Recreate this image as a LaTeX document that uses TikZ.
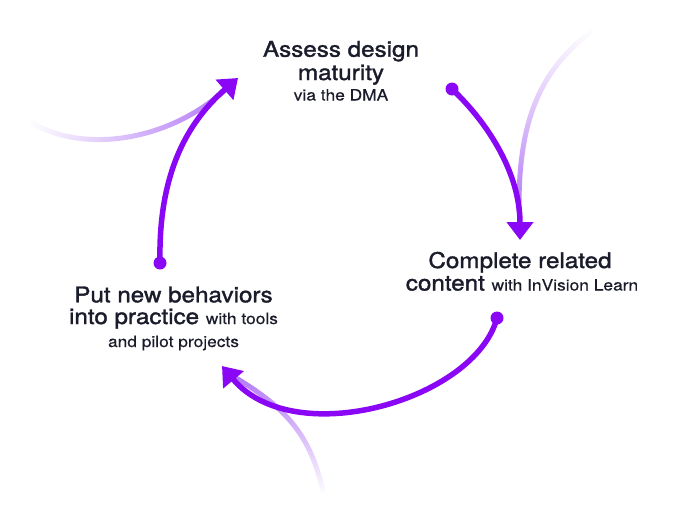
\documentclass[tikz,border=0pt]{standalone}
\usepackage{fontspec}
\setmainfont{TeX Gyre Heros}[FakeBold=0.25, FakeStretch=1.12]
\newfontfamily\titlefont{TeX Gyre Heros}[FakeBold=1.5, FakeStretch=1.12]
\usetikzlibrary{arrows.meta,fadings}
\definecolor{violetmain}{HTML}{8A07F5}
\definecolor{violettrail}{HTML}{B47AF7}
\definecolor{inkcol}{HTML}{1A1C2B}
\tikzfading[name=trailfadeL, left color=transparent!100, middle color=transparent!20, right color=transparent!0]
\tikzfading[name=trailfadeT, top color=transparent!100, middle color=transparent!20, bottom color=transparent!0]
\tikzfading[name=trailfadeB, top color=transparent!0, middle color=transparent!20, bottom color=transparent!100]
\tikzset{
  cyclearrow/.style={draw=violetmain, line width=5.5pt,
    -{Triangle[length=18pt,width=26pt]}},
  trail/.style={draw=violettrail, line width=5pt},
  dotnode/.style={circle, fill=violetmain, inner sep=0pt, minimum size=13pt},
  titletext/.style={anchor=base, text=inkcol, font=\titlefont\fontsize{21.6}{25}\selectfont,
    inner sep=0pt, text depth=0pt, text height=15.5pt},
  smalltext/.style={anchor=base, text=inkcol, font=\fontsize{15.5}{18}\selectfont,
    inner sep=0pt, text depth=0pt, text height=11.5pt},
}
\newcommand{\smallfont}{\fontsize{15.5}{18}\selectfont\normalfont}
\begin{document}
\begin{tikzpicture}[x=1pt,y=-1pt]
\path[fill=white,use as bounding box] (0,0) rectangle (692,514);

% faded trails
\draw[trail, path fading=trailfadeL] (30,122) .. controls (85,155) and (170,140) .. (225,90);
\draw[trail, path fading=trailfadeT] (593,30) .. controls (540,70) and (518,120) .. (519,212);
\draw[trail, path fading=trailfadeB] (323,492) .. controls (310,430) and (280,405) .. (236,378);

% start dots and tips
\node[dotnode] (s1) at (160,263) {};
\node[dotnode] (s2) at (452,89) {};
\node[dotnode] (s3) at (497,318) {};
\coordinate (t1) at (238,78);
\coordinate (t2) at (520,240);
\coordinate (t3) at (222,366);

% cycle arrows
\draw[cyclearrow] (s1.center) .. controls (158,170) and (190,120) .. (t1);
\draw[cyclearrow] (s2.center) .. controls (490,125) and (520,175) .. (t2);
\draw[cyclearrow] (s3.center) .. controls (475,400) and (294,452) .. (t3);

% labels
\node[titletext] (a1) at (341,56.7) {Assess design};
\node[titletext] (a2) at (341,80) {maturity};
\node[smalltext] (a3) at (341,100.5) {via the DMA};

\node[titletext] (b1) at (520,268) {Complete related};
\node[titletext] (b2) at (522,290.5) {content {\smallfont with InVision Learn}};

\node[titletext] (c1) at (173.5,302.3) {Put new behaviors};
\node[titletext] (c2) at (173.5,324) {into practice {\smallfont with tools}};
\node[smalltext] (c3) at (173.5,347) {and pilot projects};
\end{tikzpicture}
\end{document}
